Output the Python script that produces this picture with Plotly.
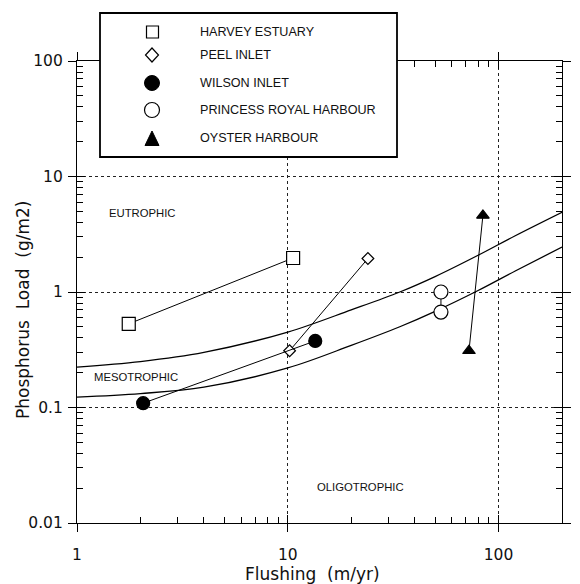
import plotly.graph_objects as go

# ---------------- data ----------------
harvey_x = [1.76, 10.6]
harvey_y = [0.53, 1.97]
peel_x = [10.2, 24.0]
peel_y = [0.31, 1.95]
wilson_x = [2.06, 13.5]
wilson_y = [0.109, 0.377]
princess_x = [53.3, 53.3]
princess_y = [1.0, 0.67]
oyster_x = [72.4, 84.3]
oyster_y = [0.31, 4.6]

curve_x = [1, 2, 4, 10, 20, 34, 50, 80, 120, 200]
upper_y = [0.224, 0.25, 0.30, 0.45, 0.70, 1.0, 1.36, 2.08, 3.07, 4.9]
lower_y = [0.123, 0.132, 0.150, 0.22, 0.345, 0.50, 0.68, 1.03, 1.52, 2.45]

x_major = [1, 10, 100]
x_major_text = ["1", "10", "100"]
x_minor = [2, 3, 4, 5, 6, 7, 8, 9, 20, 30, 40, 50, 60, 70, 80, 90]
y_major = [0.01, 0.1, 1, 10, 100]
y_major_text = ["0.01", "0.1", "1", "10", "100"]
y_minor = [0.02, 0.03, 0.04, 0.05, 0.06, 0.07, 0.08, 0.09,
           0.2, 0.3, 0.4, 0.5, 0.6, 0.7, 0.8, 0.9,
           2, 3, 4, 5, 6, 7, 8, 9, 20, 30, 40, 50, 60, 70, 80, 90]

legend_names = ["HARVEY ESTUARY", "PEEL INLET", "WILSON INLET",
                "PRINCESS ROYAL HARBOUR", "OYSTER HARBOUR"]
region_labels = ["EUTROPHIC", "MESOTROPHIC", "OLIGOTROPHIC"]

# ---------------- layout helpers ----------------
W, H = 580, 584
L, R, T, B = 77, 18, 13, 61
PW, PH = W - L - R, H - T - B
MAIN_TOP = 61


def px(x):
    return (x - L) / PW


def py(y):
    return (H - B - y) / PH


ydom_top = py(MAIN_TOP)
TICKFONT = dict(family="DejaVu Sans", size=15.5, color="#111")
LABFONT = "Liberation Sans, Arial, sans-serif"

fig = go.Figure()

# trophic boundary curves
for cy in (upper_y, lower_y):
    fig.add_trace(go.Scatter(x=curve_x, y=cy, mode="lines",
                             line=dict(color="black", width=1.3, shape="spline", smoothing=1.0),
                             showlegend=False, hoverinfo="skip"))

series = [
    (harvey_x, harvey_y, "square", "white", 13),
    (peel_x, peel_y, "diamond", "white", 9),
    (wilson_x, wilson_y, "circle", "black", 13),
    (princess_x, princess_y, "circle", "white", 14),
    (oyster_x, oyster_y, "triangle-up", "black", 11),
]
for (sx_, sy_, sym, col, sz), name in zip(series, legend_names):
    fig.add_trace(go.Scatter(x=sx_, y=sy_, mode="lines+markers", name=name,
                             line=dict(color="black", width=1),
                             marker=dict(symbol=sym, size=sz, color=col,
                                         line=dict(color="black", width=1.2)),
                             showlegend=False))

axis_common = dict(type="log", showline=True, linecolor="black", linewidth=1.2,
                   mirror="ticks", ticks="outside", ticklen=8, tickwidth=1,
                   tickcolor="black", zeroline=False, tickfont=TICKFONT,
                   showgrid=True, gridcolor="#222", griddash="dot", gridwidth=1,
                   tickmode="array", automargin=False)

fig.update_layout(
    width=W, height=H,
    margin=dict(l=L, r=R, t=T, b=B, autoexpand=False),
    plot_bgcolor="white", paper_bgcolor="white",
    showlegend=False,
    xaxis=dict(axis_common, domain=[0, 1], range=[0, 2.30103],
               tickvals=x_major, ticktext=x_major_text, ticklabelstandoff=9,
               minor=dict(tickmode="array", tickvals=x_minor, ticks="inside",
                          ticklen=6, tickcolor="black", showgrid=False)),
    yaxis=dict(axis_common, domain=[0, ydom_top], range=[-2, 2],
               tickvals=y_major, ticktext=y_major_text, ticklabelstandoff=2,
               minor=dict(tickmode="array", tickvals=y_minor, ticks="inside",
                          ticklen=6, tickcolor="black", showgrid=False)),
    # overlay axes giving the inside half of the crossing major ticks
    xaxis2=dict(type="log", overlaying="x", anchor="y", range=[0, 2.30103],
                tickmode="array", tickvals=x_major, ticks="inside", ticklen=8,
                tickcolor="black", mirror="ticks", showline=False,
                showgrid=False, showticklabels=False, zeroline=False),
    yaxis2=dict(type="log", overlaying="y", anchor="x", range=[-2, 2],
                tickmode="array", tickvals=y_major, ticks="inside", ticklen=8,
                tickcolor="black", mirror="ticks", showline=False,
                showgrid=False, showticklabels=False, zeroline=False),
)
# invisible trace that activates the overlay axes
fig.add_trace(go.Scatter(x=[1], y=[1], xaxis="x2", yaxis="y2", mode="markers",
                         marker=dict(opacity=0), showlegend=False, hoverinfo="skip"))

annotations = []
# axis titles
annotations.append(dict(text="Flushing  (m/yr)", x=px(312), y=py(574), xref="paper", yref="paper",
                        showarrow=False, xanchor="center", yanchor="middle",
                        font=dict(family="DejaVu Sans", size=17, color="#111")))
annotations.append(dict(text="Phosphorus  Load  (g/m2)", x=px(23), y=py(310), xref="paper", yref="paper",
                        showarrow=False, textangle=-90, xanchor="center", yanchor="middle",
                        font=dict(family="DejaVu Sans", size=17, color="#111")))
# region labels
for txt, (lx, ly) in zip(region_labels, [(107, 213), (92, 377), (315, 487)]):
    annotations.append(dict(text=txt, x=px(lx), y=py(ly), xref="paper", yref="paper",
                            showarrow=False, xanchor="left", yanchor="middle",
                            font=dict(family=LABFONT, size=11.3, color="#111")))

# legend box drawn by hand
shapes = [dict(type="rect", xref="paper", yref="paper", x0=px(100), x1=px(397),
               y0=py(157), y1=py(13), line=dict(color="black", width=1.8),
               fillcolor="white", layer="above")]
rows = [32, 55, 83, 110, 138]
sx = 152
# square
shapes.append(dict(type="rect", xref="paper", yref="paper", x0=px(sx - 5.5), x1=px(sx + 6.5),
                   y0=py(rows[0] + 6), y1=py(rows[0] - 6), line=dict(color="black", width=1.2),
                   fillcolor="white", layer="above"))
# diamond
cy = rows[1]
shapes.append(dict(type="path", xref="paper", yref="paper",
                   path=f"M {px(sx)} {py(cy-7)} L {px(sx+6.5)} {py(cy)} L {px(sx)} {py(cy+7)} L {px(sx-6.5)} {py(cy)} Z",
                   line=dict(color="black", width=1.2), fillcolor="white", layer="above"))
# filled circle
cy = rows[2]
shapes.append(dict(type="circle", xref="paper", yref="paper", x0=px(sx - 7.5), x1=px(sx + 7.5),
                   y0=py(cy + 7.5), y1=py(cy - 7.5), line=dict(color="black", width=1),
                   fillcolor="black", layer="above"))
# open circle
cy = rows[3]
shapes.append(dict(type="circle", xref="paper", yref="paper", x0=px(sx - 7.5), x1=px(sx + 7.5),
                   y0=py(cy + 7.5), y1=py(cy - 7.5), line=dict(color="black", width=1.2),
                   fillcolor="white", layer="above"))
# triangle
cy = rows[4]
shapes.append(dict(type="path", xref="paper", yref="paper",
                   path=f"M {px(sx-7)} {py(cy+7.5)} L {px(sx+7)} {py(cy+7.5)} L {px(sx)} {py(cy-7)} Z",
                   line=dict(color="black", width=1), fillcolor="black", layer="above"))

for name, ry in zip(legend_names, rows):
    annotations.append(dict(text=name, x=px(198), y=py(ry), xref="paper", yref="paper",
                            showarrow=False, xanchor="left", yanchor="middle",
                            font=dict(family=LABFONT, size=12.6, color="#111")))

fig.update_layout(annotations=annotations, shapes=shapes)
fig.write_html("out.html", config={"displayModeBar": False},
               post_script="document.body.style.margin='0px';document.body.style.overflow='hidden';")
